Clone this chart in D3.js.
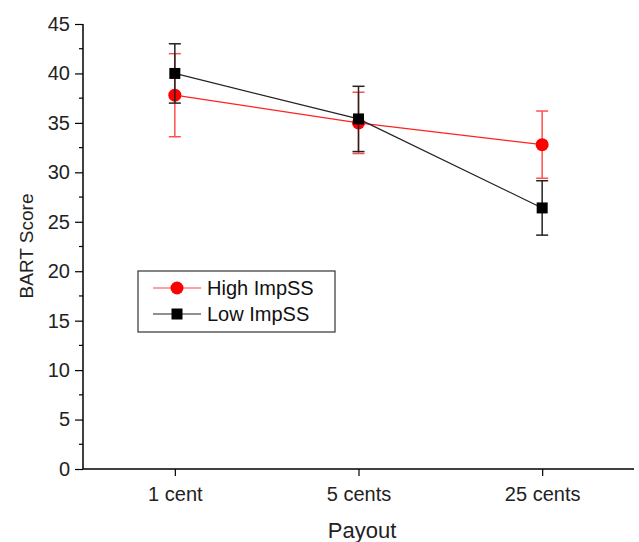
<!DOCTYPE html>
<html><head><meta charset="utf-8">
<script src="https://cdn.jsdelivr.net/npm/d3@7"></script>
<style>body{margin:0;background:#fff}svg{display:block}text{font-family:"Liberation Sans",Arial,sans-serif}</style>
</head><body><svg id="c" width="639" height="542"></svg>
<script>
const categories = ["1 cent", "5 cents", "25 cents"];
const highMeans = [37.8, 35.0, 32.8];
const highErr = [4.2, 3.1, 3.4];
const lowMeans = [40.0, 35.4, 26.4];
const lowErr = [3.0, 3.3, 2.75];
const yTicks = [0, 5, 10, 15, 20, 25, 30, 35, 40, 45];
const seriesNames = ["High ImpSS", "Low ImpSS"];

const svg = d3.select("#c");
const x = d3.scaleLinear().domain([-0.5, 2.5]).range([83, 634]);
const y = d3.scaleLinear().domain([0, 45]).range([469, 24]);

// axes
const yAxis = d3.axisLeft(y).tickValues(yTicks).tickSize(8).tickPadding(5);
const gy = svg.append("g").attr("transform", "translate(83,0)").call(yAxis);
gy.select(".domain").attr("d", `M0,${y(45)}V${y(0)}`).attr("stroke-width", 1.5);
gy.selectAll(".tick line").attr("stroke-width", 1.2);
gy.selectAll("text").attr("font-size", 20).attr("fill", "#222");
const minor = d3.range(2.5, 45, 5);
svg.append("g").selectAll("line").data(minor).join("line")
  .attr("x1", 79).attr("x2", 83).attr("y1", d => y(d)).attr("y2", d => y(d))
  .attr("stroke", "#000").attr("stroke-width", 1.2);

const xAxis = d3.axisBottom(x).tickValues([0, 1, 2]).tickFormat(i => categories[i]).tickSize(7).tickPadding(11);
const gx = svg.append("g").attr("transform", `translate(0,${y(0)})`).call(xAxis);
gx.select(".domain").attr("d", "M83,0H634").attr("stroke-width", 1.5);
gx.selectAll(".tick line").attr("stroke-width", 1.2);
gx.selectAll("text").attr("font-size", 20).attr("fill", "#222");

svg.append("text").attr("transform", `translate(33,246) rotate(-90)`)
  .attr("text-anchor", "middle").attr("font-size", 19).attr("fill", "#222").text("BART Score");
svg.append("text").attr("x", 362).attr("y", 538)
  .attr("text-anchor", "middle").attr("font-size", 22).attr("fill", "#222").text("Payout");

function drawSeries(means, errs, color, barColor, shape) {
  const g = svg.append("g");
  const idx = d3.range(means.length);
  g.append("path").datum(idx)
    .attr("d", d3.line().x(i => x(i)).y(i => y(means[i])))
    .attr("fill", "none").attr("stroke", color).attr("stroke-width", 1.2);
  idx.forEach(i => {
    const top = y(means[i] + errs[i]), bot = y(means[i] - errs[i]), cx = x(i);
    g.append("line").attr("x1", cx).attr("x2", cx).attr("y1", top).attr("y2", bot).attr("stroke", barColor).attr("stroke-width", 1.5);
    g.append("line").attr("x1", cx-6).attr("x2", cx+6).attr("y1", top).attr("y2", top).attr("stroke", barColor).attr("stroke-width", 1.5);
    g.append("line").attr("x1", cx-6).attr("x2", cx+6).attr("y1", bot).attr("y2", bot).attr("stroke", barColor).attr("stroke-width", 1.5);
  });
  g.selectAll(".m").data(idx).join("path")
    .attr("transform", i => `translate(${x(i)},${y(means[i])})`)
    .attr("d", d3.symbol().type(shape).size(shape === d3.symbolSquare ? 121 : 133))
    .attr("fill", shape === d3.symbolSquare ? "#000" : "#ff0000");
}
drawSeries(highMeans, highErr, "#ff2020", "#ff5050", d3.symbolCircle);
drawSeries(lowMeans, lowErr, "#222", "#222", d3.symbolSquare);

// legend
const lg = svg.append("g");
lg.append("rect").attr("x", 138).attr("y", 271).attr("width", 197).attr("height", 61)
  .attr("fill", "#fff").attr("stroke", "#333").attr("stroke-width", 1.2);
const legendColors = ["#ff4040", "#222"];
const legendShapes = [d3.symbolCircle, d3.symbolSquare];
seriesNames.forEach((n, k) => {
  const ly = 288 + k * 26;
  lg.append("line").attr("x1", 153).attr("x2", 201).attr("y1", ly).attr("y2", ly).attr("stroke", legendColors[k]).attr("stroke-width", 1.2);
  lg.append("path").attr("transform", `translate(177,${ly})`)
    .attr("d", d3.symbol().type(legendShapes[k]).size(k ? 121 : 133))
    .attr("fill", k ? "#000" : "#ff0000");
  lg.append("text").attr("x", 207).attr("y", ly + 7).attr("font-size", 20).attr("fill", "#111").text(n);
});
</script></body></html>
